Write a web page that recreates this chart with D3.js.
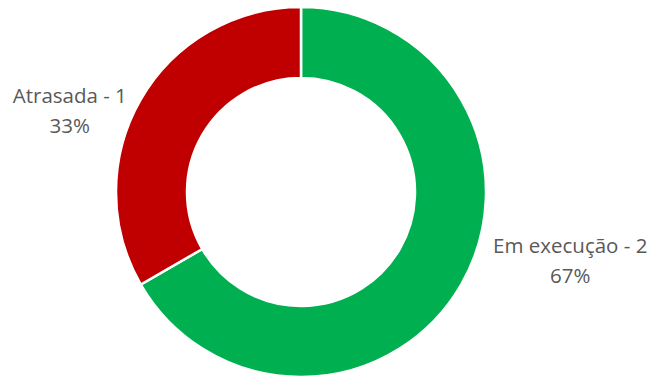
<!DOCTYPE html>
<html><head><meta charset="utf-8">
<script src="https://cdn.jsdelivr.net/npm/d3@7"></script>
<style>html,body{margin:0;padding:0;background:#fff;}svg{display:block;}</style>
</head><body>
<svg id="chart" width="652" height="380"></svg>
<script>
const categories = ["Em execução", "Atrasada"];
const values = [2, 1];
const colors = ["#00B050", "#C00000"];

const W = 652, H = 380;
const cx = 301, cy = 192, outerR = 185, innerR = 114;
// label offsets (baseline of first line) relative to the outer-edge point at each slice's mid angle
const labelOffsets = [[109, -31.5], [-71, 3]];

const svg = d3.select("#chart");
const total = d3.sum(values);
const pie = d3.pie().sort(null).value(d => d)(values);
const arc = d3.arc().innerRadius(innerR).outerRadius(outerR);
const edgeArc = d3.arc().innerRadius(outerR).outerRadius(outerR);

const g = svg.append("g").attr("transform", `translate(${cx},${cy})`);
g.selectAll("path").data(pie).join("path")
  .attr("d", arc)
  .attr("fill", (d, i) => colors[i])
  .attr("stroke", "#fff")
  .attr("stroke-width", 2.5)
  .attr("stroke-linejoin", "miter");

const fmt = d3.format(".0%");
const labels = g.selectAll("text.lab").data(pie).join("text")
  .attr("class", "lab")
  .attr("font-family", "'Open Sans', sans-serif")
  .attr("font-size", 20.5)
  .attr("fill", "#595959")
  .attr("text-anchor", "middle")
  .attr("transform", (d, i) => {
    const [x, y] = edgeArc.centroid(d);
    return `translate(${x + labelOffsets[i][0]},${y + labelOffsets[i][1]})`;
  });
labels.append("tspan").attr("x", 0).attr("dy", 0)
  .text((d, i) => `${categories[i]} - ${values[i]}`);
labels.append("tspan").attr("x", 0).attr("dy", 30)
  .text((d, i) => fmt(values[i] / total));
</script>
</body></html>
